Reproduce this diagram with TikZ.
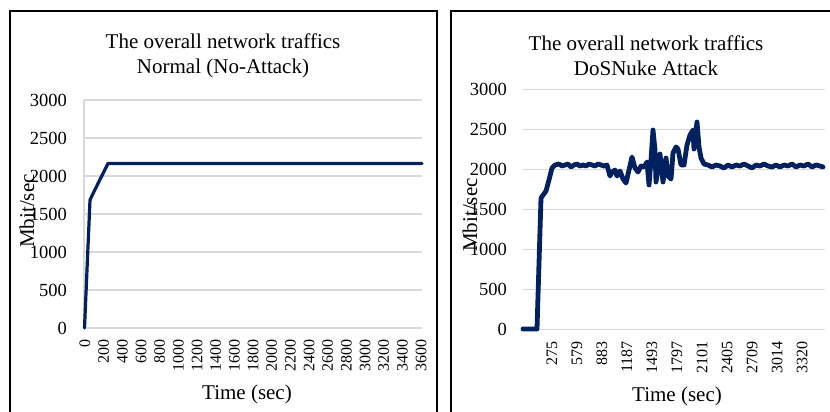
\documentclass[tikz,border=0pt]{standalone}
\usepackage{fontspec}
\setmainfont{Liberation Serif}
\definecolor{series}{RGB}{0,32,96}
\definecolor{gridgray}{RGB}{217,217,217}
\tikzset{
  panel/.style={draw=black, line width=1.8pt},
  gridline/.style={draw=gridgray, line width=1.3pt},
  ytick/.style={anchor=east, inner sep=0pt, font=\fontsize{18.5}{20}\selectfont},
  xtick/.style={rotate=90, anchor=east, inner sep=0pt, font=\fontsize{16}{18}\selectfont},
  charttitle/.style={align=center, inner sep=0pt, font=\fontsize{21}{25}\selectfont},
  axistitle/.style={inner sep=0pt, font=\fontsize{21}{24}\selectfont},
  trace/.style={draw=series, line join=round, line cap=round},
}
\begin{document}
\begin{tikzpicture}[x=1pt,y=-1pt]
\useasboundingbox (0,0) rectangle (830,412);
\clip (0,0) rectangle (830,412);

% ---------------- left chart: normal traffic ----------------
\draw[panel] (10,440) -- (10,11) -- (437,11) -- (437,440);
\node[charttitle] (ltitle) at (223,55.5) {The overall network traffics\\Normal (No-Attack)};
\foreach \k in {0,...,6} {
  \pgfmathsetmacro{\yy}{328-38*\k}
  \pgfmathtruncatemacro{\vv}{500*\k}
  \draw[gridline] (84,\yy) -- (422,\yy);
  \node[ytick] (ly\k) at (67,\yy) {\vv};
}
\draw[gridline] (84,100) -- (84,328);
\foreach \i in {0,...,18} {
  \pgfmathsetmacro{\xx}{85+18.67*\i}
  \pgfmathtruncatemacro{\tt}{200*\i}
  \node[xtick] (lx\i) at (\xx,339.5) {\tt};
}
\node[axistitle] (lxt) at (247,394) {Time (sec)};
\node[axistitle, rotate=90] (lyt) at (27,211) {Mbit/sec};
\draw[trace, line width=3.2pt] (84.5,328) -- (90,200) -- (93.3,193) -- (108,163.5) -- (422,163.5);

% ---------------- right chart: DoSNuke attack ----------------
\draw[panel] (451,440) -- (451,11) -- (842,11) -- (842,440);
\node[charttitle] (rtitle) at (646,55.5) {The overall network traffics\\DoSNuke Attack};
\foreach \k in {0,...,6} {
  \pgfmathsetmacro{\yy}{329.3-40*\k}
  \pgfmathtruncatemacro{\vv}{500*\k}
  \draw[gridline] (523,\yy) -- (825,\yy);
  \node[ytick] (ry\k) at (507,\yy) {\vv};
}
\foreach \lab [count=\i from 0] in {275,579,883,1187,1493,1797,2101,2405,2709,3014,3320} {
  \node[xtick] (rx\i) at (552+25*\i,341) {\lab};
}
\node[axistitle] (rxt) at (677,396) {Time (sec)};
\node[axistitle, rotate=90] (ryt) at (470,215) {Mbit/sec};
\draw[trace, line width=4.8pt]
  (523,329) -- (537,329) -- (541,198) -- (546,191) -- (549,180) -- (552,168)
  -- (555,165) -- (559,164) -- (562,166) -- (565,165) -- (568,164) -- (571,167)
  -- (574,165) -- (577,164) -- (580,166) -- (583,165) -- (586,166) -- (589,164)
  -- (592,165) -- (595,166) -- (598,164) -- (601,165) -- (604,166) -- (607,165)
  -- (610,176) -- (612,172) -- (615,170) -- (617,176) -- (620,171) -- (623,179)
  -- (626,183) -- (629,170) -- (632,157) -- (635,168) -- (638,172) -- (641,166)
  -- (644,167) -- (647,162) -- (649,185) -- (651,160) -- (653,130) -- (655,150)
  -- (656,182) -- (658,168) -- (660,154) -- (663,182) -- (666,158) -- (668,176)
  -- (671,179) -- (673,153) -- (676,147) -- (678,149) -- (681,165) -- (684,165)
  -- (687,145) -- (690,135) -- (693,130) -- (694,149) -- (697,122) -- (699,147)
  -- (701,158) -- (704,164) -- (708,165) -- (712,167) -- (716,165) -- (720,166)
  -- (724,168) -- (728,165) -- (732,167) -- (736,165) -- (740,166) -- (744,164)
  -- (748,166) -- (752,168) -- (756,165) -- (760,166) -- (764,164) -- (768,166)
  -- (772,167) -- (776,165) -- (780,167) -- (784,165) -- (788,166) -- (792,164)
  -- (796,167) -- (800,165) -- (804,166) -- (808,164) -- (812,167) -- (816,165)
  -- (820,166) -- (823,167);
\end{tikzpicture}
\end{document}
